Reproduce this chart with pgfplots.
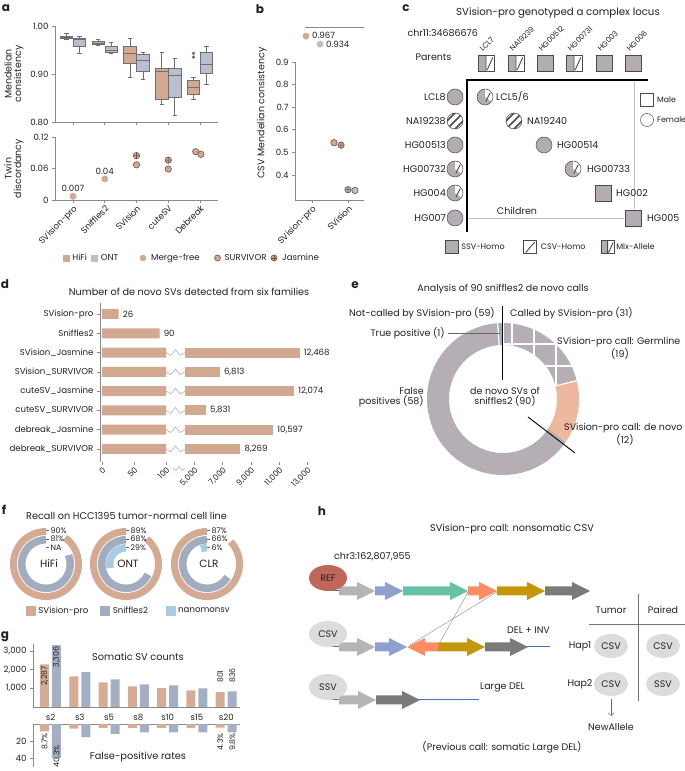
\documentclass[border=0pt]{standalone}
\usepackage{fontspec}
\setmainfont{Poppins}
\usepackage{pgfplots}
\pgfplotsset{compat=1.18}
\usetikzlibrary{calc,arrows.meta}

\newcommand\fs[1]{\fontsize{#1}{#1}\selectfont}
\definecolor{txt}{HTML}{231F20}
\definecolor{hifi}{HTML}{D3A890}
\definecolor{ont}{HTML}{B8C0CE}
\definecolor{boxedge}{HTML}{6F6F6F}
\definecolor{survedge}{HTML}{6E5445}
\definecolor{ontedge}{HTML}{4F5663}
\definecolor{axgray}{HTML}{8A8A8A}
\definecolor{pedgray}{HTML}{B3ADB3}
\definecolor{pededge}{HTML}{4A4A4A}
\definecolor{donutgray}{HTML}{B5AFB5}
\definecolor{denovo}{HTML}{EDB89E}
\definecolor{tpblue}{HTML}{9AABC0}
\definecolor{fsv}{HTML}{D5AA93}
\definecolor{fsn}{HTML}{A1ACC1}
\definecolor{fnano}{HTML}{A9CBE2}
\definecolor{gtan}{HTML}{D7AC95}
\definecolor{gblue}{HTML}{A4AFC3}
\definecolor{refred}{HTML}{C0675A}
\definecolor{ellgray}{HTML}{DCDCDC}
\definecolor{arlgray}{HTML}{B5B5B5}
\definecolor{arblue}{HTML}{8FA0CF}
\definecolor{argreen}{HTML}{66C2A5}
\definecolor{arsalmon}{HTML}{FC8D62}
\definecolor{argold}{HTML}{C4960C}
\definecolor{ardgray}{HTML}{7A7A7A}
\definecolor{lineblue}{HTML}{4472C4}

% pedigree symbols
\pgfdeclareplotmark{pssv}{%
  \pgfpathrectangle{\pgfpoint{-\pgfplotmarksize}{-\pgfplotmarksize}}{\pgfpoint{2\pgfplotmarksize}{2\pgfplotmarksize}}%
  \pgfsetfillcolor{pedgray}\pgfsetstrokecolor{pededge}\pgfsetlinewidth{0.5pt}\pgfusepath{fill,stroke}}
\pgfdeclareplotmark{pcsv}{%
  \pgfsetlinewidth{0.5pt}\pgfsetstrokecolor{pededge}\pgfsetfillcolor{white}%
  \pgfpathrectangle{\pgfpoint{-\pgfplotmarksize}{-\pgfplotmarksize}}{\pgfpoint{2\pgfplotmarksize}{2\pgfplotmarksize}}\pgfusepath{fill,stroke}%
  \pgfpathmoveto{\pgfpoint{-0.7\pgfplotmarksize}{-0.85\pgfplotmarksize}}\pgfpathlineto{\pgfpoint{0.7\pgfplotmarksize}{0.75\pgfplotmarksize}}%
  \pgfsetlinewidth{0.9pt}\pgfusepath{stroke}}
\pgfdeclareplotmark{pmix}{%
  \pgfsetlinewidth{0.5pt}\pgfsetstrokecolor{pededge}%
  \pgfpathrectangle{\pgfpoint{-\pgfplotmarksize}{-\pgfplotmarksize}}{\pgfpoint{\pgfplotmarksize}{2\pgfplotmarksize}}%
  \pgfsetfillcolor{pedgray}\pgfusepath{fill}%
  \pgfpathrectangle{\pgfpoint{0pt}{-\pgfplotmarksize}}{\pgfpoint{\pgfplotmarksize}{2\pgfplotmarksize}}%
  \pgfsetfillcolor{white}\pgfusepath{fill}%
  \pgfpathmoveto{\pgfpoint{0.15\pgfplotmarksize}{-0.85\pgfplotmarksize}}\pgfpathlineto{\pgfpoint{0.85\pgfplotmarksize}{0.7\pgfplotmarksize}}%
  \pgfpathmoveto{\pgfpoint{0pt}{-\pgfplotmarksize}}\pgfpathlineto{\pgfpoint{0pt}{\pgfplotmarksize}}%
  \pgfsetlinewidth{0.9pt}\pgfusepath{stroke}%
  \pgfpathrectangle{\pgfpoint{-\pgfplotmarksize}{-\pgfplotmarksize}}{\pgfpoint{2\pgfplotmarksize}{2\pgfplotmarksize}}%
  \pgfsetlinewidth{0.5pt}\pgfusepath{stroke}}
\pgfdeclareplotmark{pssvc}{%
  \pgfpathcircle{\pgfpointorigin}{\pgfplotmarksize}%
  \pgfsetfillcolor{pedgray}\pgfsetstrokecolor{pededge}\pgfsetlinewidth{0.5pt}\pgfusepath{fill,stroke}}
\pgfdeclareplotmark{pcsvc}{%
  \pgfsetstrokecolor{pededge}\pgfsetlinewidth{0.5pt}%
  \pgfpathcircle{\pgfpointorigin}{\pgfplotmarksize}\pgfsetfillcolor{white}\pgfusepath{fill}%
  \begin{pgfscope}\pgfpathcircle{\pgfpointorigin}{\pgfplotmarksize}\pgfusepath{clip}%
  \pgfsetlinewidth{1.5pt}%
  \pgfpathmoveto{\pgfpoint{-\pgfplotmarksize}{-\pgfplotmarksize}}\pgfpathlineto{\pgfpoint{\pgfplotmarksize}{\pgfplotmarksize}}%
  \pgfpathmoveto{\pgfpoint{-0.25\pgfplotmarksize}{-1.25\pgfplotmarksize}}\pgfpathlineto{\pgfpoint{1.5\pgfplotmarksize}{0.5\pgfplotmarksize}}%
  \pgfpathmoveto{\pgfpoint{-1.5\pgfplotmarksize}{-0.5\pgfplotmarksize}}\pgfpathlineto{\pgfpoint{0.25\pgfplotmarksize}{1.25\pgfplotmarksize}}%
  \pgfusepath{stroke}\end{pgfscope}%
  \pgfpathcircle{\pgfpointorigin}{\pgfplotmarksize}\pgfusepath{stroke}}
\pgfdeclareplotmark{pmixc}{%
  \pgfsetlinewidth{0.5pt}\pgfsetstrokecolor{pededge}%
  \pgfpathcircle{\pgfpointorigin}{\pgfplotmarksize}\pgfsetfillcolor{pedgray}\pgfusepath{fill}%
  \pgfpathmoveto{\pgfpointorigin}\pgfpathlineto{\pgfpointpolar{-35}{\pgfplotmarksize}}%
  \pgfpatharc{-35}{90}{\pgfplotmarksize}\pgfpathclose
  \pgfsetfillcolor{white}\pgfusepath{fill}%
  \pgfpathmoveto{\pgfpoint{0.1\pgfplotmarksize}{-0.55\pgfplotmarksize}}\pgfpathlineto{\pgfpoint{0.65\pgfplotmarksize}{0.55\pgfplotmarksize}}%
  \pgfsetlinewidth{0.9pt}\pgfusepath{stroke}%
  \pgfpathcircle{\pgfpointorigin}{\pgfplotmarksize}\pgfsetlinewidth{0.5pt}\pgfusepath{stroke}}

\pgfplotsset{
  canvas/.style={at={(0pt,0pt)}, anchor=south west, scale only axis, width=685pt, height=771pt,
    xmin=0, xmax=685, ymin=0, ymax=771, y dir=reverse, hide axis, clip=false, disabledatascaling},
  dax/.style={scale only axis, anchor=south west, clip=false,
    axis line style={draw=axgray, line width=0.6pt},
    tick style={draw=axgray, line width=0.6pt},
    tick align=outside, major tick length=3pt,
    tick label style={font=\fs{8.6}, text=txt},
    /pgf/number format/assume math mode=true,
    label style={font=\fs{9.5}, text=txt}},
  lgd/.style={legend columns=-1, legend cell align=left,
    legend style={anchor=west, draw=none, fill=none, inner sep=0pt, outer sep=0pt,
      font=\fs{8.6}, text=txt, column sep=0pt, nodes={inner sep=0pt}}},
}

% box plot from prepared statistics: colour, left, centre, right, lower whisker, Q1, median, Q3, upper whisker
\newcommand\bxp[9]{%
  \addplot[boxedge, line width=0.7pt, mark=-, mark size=2.2pt, mark options={solid, line width=0.7pt}] coordinates {(#3,#5) (#3,#6)};
  \addplot[boxedge, line width=0.7pt, mark=-, mark size=2.2pt, mark options={solid, line width=0.7pt}] coordinates {(#3,#8) (#3,#9)};
  \addplot[fill=#1, draw=boxedge, line width=0.7pt] coordinates {(#2,#6) (#4,#6) (#4,#8) (#2,#8)} -- cycle;
  \addplot[boxedge, line width=0.9pt] coordinates {(#2,#7) (#4,#7)};
}

\newcommand\harr[4]{\fill[#4] ({#1},{#3-4.5}) -- ({#2-18},{#3-4.5}) -- ({#2-18},{#3-9}) -- ({#2},{#3}) -- ({#2-18},{#3+9}) -- ({#2-18},{#3+4.5}) -- ({#1},{#3+4.5}) -- cycle;}
\newcommand\larr[4]{\fill[#4] ({#2},{#3-4.5}) -- ({#1+18},{#3-4.5}) -- ({#1+18},{#3-9}) -- ({#1},{#3}) -- ({#1+18},{#3+9}) -- ({#1+18},{#3+4.5}) -- ({#2},{#3+4.5}) -- cycle;}

\begin{document}
\begin{tikzpicture}
\useasboundingbox (0pt,0pt) rectangle (685pt,771pt);

% ===== canvas: pedigree symbols
\begin{axis}[canvas]
\addplot[only marks, mark=pmix, mark size=8pt] coordinates {(486,63) (516,63) (574,63)};
\addplot[only marks, mark=pssv, mark size=8pt] coordinates {(545,63) (604,63) (633,63)};
\addplot[only marks, mark=pssvc, mark size=8pt] coordinates {(455,97) (455,145) (455,218)};
\addplot[only marks, mark=pcsvc, mark size=8pt] coordinates {(455,121)};
\addplot[only marks, mark=pmixc, mark size=8pt] coordinates {(455,169) (455,193)};
\addplot[only marks, mark=pmixc, mark size=8pt] coordinates {(485,97) (573,169)};
\addplot[only marks, mark=pcsvc, mark size=8pt] coordinates {(514,121)};
\addplot[only marks, mark=pssvc, mark size=8pt] coordinates {(544,145)};
\addplot[only marks, mark=pssv, mark size=8pt] coordinates {(603,193) (633,218)};
\addplot[only marks, mark=square, mark size=6.5pt, mark options={draw=pededge, fill=white, line width=0.5pt}] coordinates {(647,100)};
\addplot[only marks, mark=o, mark size=6.5pt, mark options={draw=pededge, fill=white, line width=0.5pt}] coordinates {(647,120)};
\end{axis}

% ===== canvas: e donut: TP 1, Germline 19, de novo 12, FP 58 (of 90), 4 degrees per call
\begin{axis}[canvas]
\draw[line width=22pt, tpblue] (503,399) ++(94:65pt) arc[start angle={90+4*1}, end angle=90, radius=65pt];
\draw[line width=22pt, donutgray] (503,399) ++(90:65pt) arc[start angle=90, end angle={90-4*19}, radius=65pt];
\draw[line width=22pt, denovo] (503,399) ++(14:65pt) arc[start angle={90-4*19}, end angle={90-4*31}, radius=65pt];
\draw[line width=22pt, donutgray] (503,399) ++(-34:65pt) arc[start angle={90-4*31}, end angle={90-4*89}, radius=65pt];
\begin{scope}
\clip (503,399) -- ++(90:78pt) arc[start angle=90, end angle=14, radius=78pt] -- cycle;
\draw[white, line width=1.2pt] (512,315) -- (512,420) (534,315) -- (534,420) (556,315) -- (556,420) (578,315) -- (578,420)
  (495,344) -- (590,344) (495,366) -- (590,366) (495,388) -- (590,388);
\end{scope}
\draw[white, line width=1.2pt] (503,399) ++(90:53pt) -- ++(90:24pt);
\draw[white, line width=1.2pt] (503,399) ++(94:53pt) -- ++(94:24pt);
\draw[white, line width=1.2pt] (503,399) ++(14:53pt) -- ++(14:24pt);
\end{axis}

% ===== canvas: f recall rings (percent of full circle, counter-clockwise from top)
\begin{axis}[canvas]
\draw[line width=7pt, fsv] (46,564) ++(90:32.5pt) arc[start angle=90, delta angle={3.6*90}, radius=32.5pt];
\draw[line width=7.5pt, fsn] (46,564) ++(90:24.3pt) arc[start angle=90, delta angle={3.6*81}, radius=24.3pt];
\draw[line width=7pt, fsv] (126,564) ++(90:32.5pt) arc[start angle=90, delta angle={3.6*89}, radius=32.5pt];
\draw[line width=7.5pt, fsn] (126,564) ++(90:24.3pt) arc[start angle=90, delta angle={3.6*68}, radius=24.3pt];
\draw[line width=7.5pt, fnano] (126,564) ++(90:16.3pt) arc[start angle=90, delta angle={3.6*29}, radius=16.3pt];
\draw[line width=7pt, fsv] (207,564) ++(90:32.5pt) arc[start angle=90, delta angle={3.6*87}, radius=32.5pt];
\draw[line width=7.5pt, fsn] (207,564) ++(90:24.3pt) arc[start angle=90, delta angle={3.6*66}, radius=24.3pt];
\draw[line width=7.5pt, fnano] (207,564) ++(90:16.3pt) arc[start angle=90, delta angle={3.6*6}, radius=16.3pt];
\end{axis}

% ===== legends
\begin{axis}[canvas, lgd, legend style={at={(axis cs:63,258)}}]
\addlegendimage{legend image code/.code={\fill[hifi] (0pt,-3pt) rectangle (6pt,3pt); \path (0pt,0pt) (9pt,0pt);}}
\addlegendentry{\makebox[19pt][l]{HiFi}}
\addlegendimage{legend image code/.code={\fill[ont] (0pt,-3pt) rectangle (6pt,3pt); \path (0pt,0pt) (9pt,0pt);}}
\addlegendentry{\makebox[39pt][l]{ONT}}
\addlegendimage{legend image code/.code={\fill[hifi] (3pt,0pt) circle (3pt); \path (0pt,0pt) (11pt,0pt);}}
\addlegendentry{\makebox[63pt][l]{Merge-free}}
\addlegendimage{legend image code/.code={\draw[fill=hifi, draw=survedge, line width=0.6pt] (3pt,0pt) circle (3pt); \path (0pt,0pt) (10pt,0pt);}}
\addlegendentry{\makebox[46pt][l]{SURVIVOR}}
\addlegendimage{legend image code/.code={\draw[fill=hifi, draw=survedge, line width=0.6pt] (3pt,0pt) circle (3pt); \draw[survedge, line width=0.6pt] (0pt,0pt) -- (6pt,0pt) (3pt,-3pt) -- (3pt,3pt); \path (0pt,0pt) (11pt,0pt);}}
\addlegendentry{Jasmine}
\end{axis}

\begin{axis}[canvas, lgd, legend style={at={(axis cs:26,611)}}]
\addlegendimage{legend image code/.code={\fill[fsv] (0pt,-4.5pt) rectangle (9pt,4.5pt); \path (0pt,0pt) (12pt,0pt);}}
\addlegendentry{\makebox[62pt][l]{SVision-pro}}
\addlegendimage{legend image code/.code={\fill[fsn] (0pt,-4.5pt) rectangle (9pt,4.5pt); \path (0pt,0pt) (12pt,0pt);}}
\addlegendentry{\makebox[53pt][l]{Sniffles2}}
\addlegendimage{legend image code/.code={\fill[fnano] (0pt,-4.5pt) rectangle (9pt,4.5pt); \path (0pt,0pt) (12pt,0pt);}}
\addlegendentry{nanomonsv}
\end{axis}

\begin{axis}[canvas, lgd, legend style={at={(axis cs:445,247)}, font=\fs{8}}]
\addlegendimage{legend image code/.code={\path (0pt,-6.5pt) (16pt,6.5pt); \pgfsetplotmarksize{6.5pt}\pgftransformshift{\pgfpoint{6.5pt}{0pt}}\pgfuseplotmark{pssv}}}
\addlegendentry{\makebox[62pt][l]{SSV-Homo}}
\addlegendimage{legend image code/.code={\path (0pt,-6.5pt) (17pt,6.5pt); \pgfsetplotmarksize{6.5pt}\pgftransformshift{\pgfpoint{6.5pt}{0pt}}\pgfuseplotmark{pcsv}}}
\addlegendentry{\makebox[60pt][l]{CSV-Homo}}
\addlegendimage{legend image code/.code={\path (0pt,-6.5pt) (15pt,6.5pt); \pgfsetplotmarksize{6.5pt}\pgftransformshift{\pgfpoint{6.5pt}{0pt}}\pgfuseplotmark{pmix}}}
\addlegendentry{Mix-Allele}
\end{axis}

% ===== a: Mendelian consistency boxplots
\begin{axis}[dax, at={(55pt,649pt)}, width=163pt, height=96pt,
  xmin=0.433, xmax=5.567, ymin=0.8, ymax=1.0,
  axis x line*=bottom, axis y line*=left,
  xtick={1,...,5}, xticklabels={},
  ytick={0.8,0.9,1.0}, yticklabels={0.80,0.90,1.00},
  ylabel={Mendelian\\consistency}, ylabel style={align=center}]
\bxp{hifi}{0.60}{0.795}{0.99}{0.972}{0.974}{0.977}{0.979}{0.985}
\bxp{ont}{1.01}{1.205}{1.40}{0.944}{0.958}{0.971}{0.974}{0.978}
\bxp{hifi}{1.60}{1.795}{1.99}{0.960}{0.962}{0.964}{0.967}{0.972}
\bxp{ont}{2.01}{2.205}{2.40}{0.943}{0.945}{0.950}{0.957}{0.965}
\bxp{hifi}{2.60}{2.795}{2.99}{0.894}{0.922}{0.943}{0.957}{0.974}
\bxp{ont}{3.01}{3.205}{3.40}{0.889}{0.905}{0.929}{0.941}{0.946}
\bxp{hifi}{3.60}{3.795}{3.99}{0.837}{0.847}{0.906}{0.912}{0.945}
\bxp{ont}{4.01}{4.205}{4.40}{0.813}{0.851}{0.898}{0.912}{0.933}
\bxp{hifi}{4.60}{4.795}{4.99}{0.847}{0.858}{0.872}{0.886}{0.892}
\bxp{ont}{5.01}{5.205}{5.40}{0.879}{0.901}{0.919}{0.945}{0.958}
\addplot[only marks, mark=*, mark size=1.5pt, mark options={fill=boxedge, draw=boxedge}] coordinates {(4.795,0.943) (4.795,0.935)};
\end{axis}

% ===== a: twin discordancy
\begin{axis}[dax, at={(55pt,571pt)}, width=163pt, height=63pt,
  xmin=0.433, xmax=5.567, ymin=0, ymax=0.12,
  axis x line*=bottom, axis y line*=left,
  xtick={1,...,5}, xticklabels={SVision-pro,Sniffles2,SVision,cuteSV,Debreak},
  x tick label style={rotate=45, anchor=north east, inner sep=1pt},
  ytick={0,0.06,0.12}, yticklabels={0,0.06,0.12},
  ylabel={Twin\\discordancy}, ylabel style={align=center}]
\addplot[only marks, mark=*, mark size=3.2pt, mark options={fill=hifi, draw=hifi}] coordinates {(1,0.007) (2,0.040)};
\addplot[only marks, mark=*, mark size=3.2pt, mark options={fill=hifi, draw=survedge, line width=0.6pt}] coordinates {(3,0.067) (4,0.059) (4.865,0.092) (5.03,0.087)};
\addplot[only marks, mark=oplus*, mark size=3.2pt, mark options={fill=hifi, draw=survedge, line width=0.6pt}] coordinates {(3,0.0845) (4,0.076)};
\node[font=\fs{8.6}, text=txt, anchor=south, inner sep=0pt] at ($(axis cs:1,0.007)+(0pt,4.5pt)$) {0.007};
\node[font=\fs{8.6}, text=txt, anchor=south, inner sep=0pt] at ($(axis cs:2,0.040)+(0pt,4.5pt)$) {0.04};
\end{axis}

% ===== b: CSV Mendelian consistency
\begin{axis}[dax, at={(295pt,571pt)}, width=69pt, height=138pt,
  xmin=0.528, xmax=2.444, ymin=0.2894, ymax=0.9,
  axis x line*=bottom, axis y line*=left,
  xtick={1,2}, xticklabels={SVision-pro,SVision},
  x tick label style={rotate=45, anchor=north east, inner sep=1pt},
  ytick={0.4,0.5,0.6,0.7,0.8,0.9}, yticklabels={0.4,0.5,0.6,0.7,0.8,0.9}]
\addplot[only marks, mark=*, mark size=3.2pt, mark options={fill=hifi, draw=survedge, line width=0.6pt}] coordinates {(1.611,0.543)};
\addplot[only marks, mark=oplus*, mark size=3.2pt, mark options={fill=hifi, draw=survedge, line width=0.6pt}] coordinates {(1.806,0.532)};
\addplot[only marks, mark=oplus*, mark size=3.2pt, mark options={fill=ont, draw=ontedge, line width=0.6pt}] coordinates {(2.0,0.335)};
\addplot[only marks, mark=*, mark size=3.2pt, mark options={fill=ont, draw=ontedge, line width=0.6pt}] coordinates {(2.194,0.332)};
\end{axis}
\begin{axis}[dax, at={(295pt,716pt)}, width=69pt, height=28pt,
  xmin=0.528, xmax=2.444, ymin=0.889, ymax=1.005, hide axis]
\draw[axgray, line width=0.6pt] (axis cs:0.806,1.005) -- (axis cs:2.444,1.005);
\addplot[only marks, mark=*, mark size=3.2pt, mark options={fill=hifi, draw=hifi}] coordinates {(0.833,0.967)};
\addplot[only marks, mark=*, mark size=3.2pt, mark options={fill=ont, draw=ont}] coordinates {(1.222,0.934)};
\node[font=\fs{8.6}, text=txt, anchor=west, inner sep=0pt] at ($(axis cs:0.833,0.967)+(6pt,0.5pt)$) {0.967};
\node[font=\fs{8.6}, text=txt, anchor=west, inner sep=0pt] at ($(axis cs:1.222,0.934)+(6pt,-0.5pt)$) {0.934};
\end{axis}

% ===== d: de novo SV counts (broken axis)
\begin{axis}[dax, at={(100pt,309pt)}, width=212pt, height=159pt,
  xmin=-2, xmax=210, ymin=0.326, ymax=8.57,
  axis x line*=bottom, axis y line*=left, x axis line style={draw=none},
  x filter/.expression={x<101 ? 0.64*x : 83+0.01413*(x-4350)},
  xtick={0,32,64,92.3,120.6,148.8,177.1,205.3},
  xticklabels={0,50,100,{5,000},{7,000},{9,000},{11,000},{13,000}},
  x tick label style={rotate=45, anchor=north east, inner sep=1pt, font=\fs{8}},
  ytick={1,...,8},
  yticklabels={debreak\_SURVIVOR,debreak\_Jasmine,cuteSV\_SURVIVOR,cuteSV\_Jasmine,SVision\_SURVIVOR,SVision\_Jasmine,Sniffles2,SVision-pro}]
\addplot[xbar, bar width=10pt, bar shift=0pt, fill=hifi, draw=none] coordinates {(26,8) (90,7) (100,6) (100,5) (100,4) (100,3) (100,2) (100,1)};
\addplot[hifi, line width=10pt] coordinates {(4350,6) (12468,6)};
\addplot[hifi, line width=10pt] coordinates {(4350,5) (6813,5)};
\addplot[hifi, line width=10pt] coordinates {(4350,4) (12074,4)};
\addplot[hifi, line width=10pt] coordinates {(4350,3) (5831,3)};
\addplot[hifi, line width=10pt] coordinates {(4350,2) (10597,2)};
\addplot[hifi, line width=10pt] coordinates {(4350,1) (8269,1)};
\addplot[draw=none, nodes near coords, point meta=explicit symbolic,
  nodes near coords style={anchor=west, font=\fs{8.6}, text=txt, inner sep=0pt, xshift=4pt}]
  coordinates {(26,8) [26] (90,7) [90] (12468,6) [12,468] (6813,5) [6,813] (12074,4) [12,074] (5831,3) [5,831] (10597,2) [10,597] (8269,1) [8,269]};
\foreach \r in {1,...,6} {
  \edef\tmp{\noexpand\draw[black!35, line width=0.5pt] (axis cs:64,\r) -- (axis cs:68.75,{\r-0.15}) -- (axis cs:73.5,{\r+0.15}) -- (axis cs:78.25,{\r-0.15}) -- (axis cs:83,\r);}\tmp
}
\draw[black!35, line width=0.5pt] (axis cs:71,0.02) -- (axis cs:74,-0.12) -- (axis cs:77,0.1) -- (axis cs:80,-0.12) -- (axis cs:83,0.02);
\end{axis}

% ===== g: somatic SV counts
\begin{axis}[dax, at={(33pt,64pt)}, width=207pt, height=62.6pt,
  xmin=0.403, xmax=7.47, ymin=0, ymax=3350,
  axis x line*=bottom, axis y line*=left, ybar, bar width=9pt,
  xtick={1,...,7}, xticklabels={s2,s3,s5,s8,s10,s15,s20}, xtick style={draw=none},
  x tick label style={yshift=-1pt},
  ytick={1000,2000,3000}, yticklabels={{1,000},{2,000},{3,000}}]
\addplot[fill=gtan, draw=none, bar shift=-6pt] coordinates {(1,2287) (2,1640) (3,1320) (4,1100) (5,1010) (6,890) (7,801)};
\addplot[fill=gblue, draw=none, bar shift=6pt] coordinates {(1,3306) (2,1860) (3,1480) (4,1210) (5,1160) (6,1000) (7,836)};
\node[rotate=90, anchor=east, font=\fs{7.8}, text=txt, inner sep=0pt] at ($(axis cs:1,2287)+(-6pt,-1.5pt)$) {2,287};
\node[rotate=90, anchor=east, font=\fs{7.8}, text=txt, inner sep=0pt] at ($(axis cs:1,3306)+(6pt,-1.5pt)$) {3,306};
\node[rotate=90, anchor=west, font=\fs{7.8}, text=txt, inner sep=0pt] at ($(axis cs:7,1283)+(-6pt,0pt)$) {801};
\node[rotate=90, anchor=west, font=\fs{7.8}, text=txt, inner sep=0pt] at ($(axis cs:7,1283)+(6pt,0pt)$) {836};
\end{axis}
\begin{axis}[dax, at={(33pt,4pt)}, width=207pt, height=43pt,
  xmin=0.403, xmax=7.47, ymin=-50.6, ymax=0, y filter/.expression={-y},
  axis x line*=top, axis y line*=left, ybar, bar width=9pt,
  xtick=\empty, ytick={-20,-40}, yticklabels={20,40}]
\addplot[fill=gtan, draw=none, bar shift=-6pt] coordinates {(1,8.7) (2,5.5) (3,4.5) (4,4.5) (5,4.5) (6,4.5) (7,4.3)};
\addplot[fill=gblue, draw=none, bar shift=6pt] coordinates {(1,40.3) (2,15.5) (3,11.5) (4,10) (5,10) (6,10) (7,9.8)};
\node[rotate=90, anchor=east, font=\fs{7.8}, text=txt, inner sep=0pt] at ($(axis cs:1,-8.7)+(-6pt,-1.5pt)$) {8.7\%};
\node[rotate=90, anchor=east, font=\fs{7.8}, text=txt, inner sep=0pt] at ($(axis cs:1,-24.7)+(6pt,0pt)$) {40.3\%};
\node[rotate=90, anchor=east, font=\fs{7.8}, text=txt, inner sep=0pt] at ($(axis cs:7,-10.6)+(-6pt,0pt)$) {4.3\%};
\node[rotate=90, anchor=east, font=\fs{7.8}, text=txt, inner sep=0pt] at ($(axis cs:7,-10.6)+(6pt,0pt)$) {9.8\%};
\end{axis}

% ===== text, schematic drawings (pixel coordinates, y downwards)
\begin{scope}[x=1pt, y=-1pt, shift={(0pt,771pt)}, every node/.style={text=txt}]
\foreach \l/\px/\py in {a/6/8, b/260/9, c/406/8, d/5/284, e/355/285, f/4/510, g/5/637, h/322/511}
  \node[font=\bfseries\fs{12}] at (\px,\py) {\l};
\node[rotate=90, font=\fs{9.5}] at (262,113) {CSV Mendelian consistency};

% c
\node[font=\fs{10.2}] at (558,13) {SVision-pro genotyped a complex locus};
\node[font=\fs{9.5}, anchor=west] at (404,33) {chr11:34686676};
\node[font=\fs{9.5}, anchor=west] at (412,57) {Parents};
\foreach \n/\px in {LCL7/486, NA19239/516, HG00512/545, HG00731/574, HG003/604, HG006/633}
  \node[font=\fs{7.5}, anchor=south west, rotate=45, inner sep=0pt] at (\px-3,52) {\n};
\draw[black, line width=1.5pt] (648,80) -- (467,80) -- (467,232);
\draw[black!25, line width=0.5pt] (468,218) -- (624,218);
\draw[black!25, line width=0.5pt] (634,81) -- (634,209);
\foreach \n/\py in {LCL8/97, NA19238/121, HG00513/145, HG00732/169, HG004/193, HG007/218}
  \node[font=\fs{9.6}, anchor=east, inner sep=0pt] at (446,\py) {\n};
\node[font=\fs{9.6}, anchor=west, inner sep=0pt] at (496,97) {LCL5/6};
\node[font=\fs{9.6}, anchor=west, inner sep=0pt] at (527,121) {NA19240};
\node[font=\fs{9.6}, anchor=west, inner sep=0pt] at (557,145) {HG00514};
\node[font=\fs{9.6}, anchor=west, inner sep=0pt] at (587,169) {HG00733};
\node[font=\fs{9.6}, anchor=west, inner sep=0pt] at (616,193) {HG002};
\node[font=\fs{9.6}, anchor=west, inner sep=0pt] at (647,218) {HG005};
\node[font=\fs{9.5}] at (517,211) {Children};
\node[font=\fs{7.8}, anchor=west, inner sep=0pt] at (657,100) {Male};
\node[font=\fs{7.8}, anchor=west, inner sep=0pt] at (657,120) {Female};

% d
\node[font=\fs{9.7}] at (189,292) {Number of de novo SVs detected from six families};

% e
\node[font=\fs{9.5}] at (503,289) {Analysis of 90 sniffles2 de novo calls};
\node[font=\fs{9.5}, anchor=east, inner sep=0pt] at (495,313) {Not-called by SVision-pro (59)};
\node[font=\fs{9.5}, anchor=west, inner sep=0pt] at (510,313) {Called by SVision-pro (31)};
\draw[black, line width=0.9pt] (502,306) -- (502,380);
\node[font=\fs{9.5}, anchor=east, inner sep=0pt] at (445,333) {True positive (1)};
\draw[black!60, line width=0.6pt] (448,333) -- (500,333);
\node[font=\fs{9.5}, anchor=west, inner sep=0pt] at (557,342) {SVision-pro call: Germline};
\node[font=\fs{9.5}] at (620,354) {(19)};
\node[font=\fs{9.5}, align=right, anchor=east, inner sep=0pt] at (424,397) {False\\positives (58)};
\node[font=\fs{9.5}, align=center, inner sep=0pt] at (505,397) {de novo SVs of\\sniffles2 (90)};
\node[font=\fs{9.5}, anchor=west, inner sep=0pt] at (564,428) {SVision-pro call: de novo};
\node[font=\fs{9.5}] at (625,440) {(12)};
\draw[black, line width=0.9pt] (528,417) -- (575,453);

% f
\node[font=\fs{9.7}, anchor=west, inner sep=0pt] at (26,516) {Recall on HCC1395 tumor-normal cell line};
\node[font=\fs{10.5}] at (49,564) {HiFi};
\node[font=\fs{10.5}] at (128,564) {ONT};
\node[font=\fs{10.5}] at (209,564) {CLR};
\foreach \cx/\ta/\tb/\tc in {46/90\%/81\%/NA, 126/89\%/68\%/29\%, 207/87\%/66\%/6\%} {
  \draw[black!60, line width=0.5pt] (\cx,530.5) -- (\cx+2.5,530.5);
  \draw[black!60, line width=0.5pt] (\cx,539) -- (\cx+2.5,539);
  \draw[black!60, line width=0.5pt] (\cx,547.5) -- (\cx+2.5,547.5);
  \node[font=\fs{7.8}, anchor=west, inner sep=0pt] at (\cx+4.5,530.5) {\ta};
  \node[font=\fs{7.8}, anchor=west, inner sep=0pt] at (\cx+4.5,539) {\tb};
  \node[font=\fs{7.8}, anchor=west, inner sep=0pt] at (\cx+4.5,547.5) {\tc};
}

% g
\node[font=\fs{9.8}] at (138,657) {Somatic SV counts};
\node[font=\fs{9.8}] at (138,757) {False-positive rates};

% h
\node[font=\fs{9.8}] at (512,529) {SVision-pro call: nonsomatic CSV};
\node[font=\fs{9.5}, anchor=west, inner sep=0pt] at (334,557) {chr3:162,807,955};
\draw[lineblue, line width=1pt] (327,591) -- (340,591);
\harr{339}{375}{591}{arlgray}
\harr{375}{403}{591}{arblue}
\harr{403}{468}{591}{argreen}
\harr{468}{497}{591}{arsalmon}
\harr{497}{545}{591}{argold}
\harr{545}{590}{591}{ardgray}
\draw[black!45, line width=0.4pt] (468,592) -- (438,646);
\draw[black!45, line width=0.4pt] (497,592) -- (410,645);
\draw[lineblue, line width=1pt] (327,647) -- (340,647);
\harr{339}{375}{647}{arlgray}
\harr{375}{407}{647}{arblue}
\larr{407}{438}{647}{arsalmon}
\harr{438}{485}{647}{argold}
\harr{485}{528}{647}{ardgray}
\draw[lineblue, line width=1pt] (527,647) -- (550,647);
\draw[lineblue, line width=1pt] (327,700) -- (340,700);
\harr{339}{376}{700}{arlgray}
\harr{376}{420}{700}{ardgray}
\draw[lineblue, line width=1pt] (419,700) -- (479,700);
\fill[refred] (328,578) ellipse [x radius=19pt, y radius=13pt];
\node[font=\fs{9.5}] at (328,578) {REF};
\fill[ellgray] (328,634) ellipse [x radius=19pt, y radius=13pt];
\node[font=\fs{9.5}] at (328,634) {CSV};
\fill[ellgray] (328,687) ellipse [x radius=19pt, y radius=13pt];
\node[font=\fs{9.5}] at (328,687) {SSV};
\node[font=\fs{9.5}, anchor=west, inner sep=0pt] at (507,630) {DEL + INV};
\node[font=\fs{9.5}, anchor=west, inner sep=0pt] at (480,687) {Large DEL};
\draw[black!55, line width=0.6pt] (638,594) -- (638,701);
\draw[black!55, line width=0.6pt] (589,624) -- (685,624);
\node[font=\fs{9.5}] at (611,610) {Tumor};
\node[font=\fs{9.5}] at (663,610) {Paired};
\node[font=\fs{9.5}] at (580,646) {Hap1};
\node[font=\fs{9.5}] at (580,684) {Hap2};
\foreach \ex/\ey/\et in {611/646/CSV, 663/646/CSV, 611/684/CSV, 663/684/SSV} {
  \fill[ellgray] (\ex,\ey) ellipse [x radius=17pt, y radius=12pt];
  \node[font=\fs{9.5}] at (\ex,\ey) {\et};
}
\draw[black!60, line width=0.5pt, -{Straight Barb[length=3pt]}] (611,699) -- (611,716);
\node[font=\fs{9.5}] at (611,727) {NewAllele};
\node[font=\fs{9.5}] at (502,747) {(Previous call: somatic Large DEL)};
\end{scope}
\end{tikzpicture}
\end{document}
